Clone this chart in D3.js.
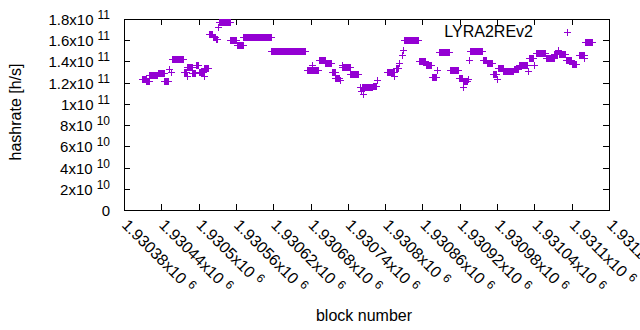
<!DOCTYPE html>
<html lang="en">
<head>
<meta charset="utf-8">
<title>LYRA2REv2 hashrate by block number</title>
<script src="https://d3js.org/d3.v7.min.js"></script>
<style>
    body { margin: 0; background: #fff; }
    text { font-family: "Liberation Sans", Arial, sans-serif; fill: #000; }
</style>
</head>
<body>
<div id="chart"></div>
<script>

// Runs of consecutive blocks that share one hashrate estimate (start block, end block, h/s)
var runStart = [1930409, 1930416, 1930421, 1930434, 1930445, 1930452, 1930456, 1930457, 1930476, 1930481,
                1930482, 1930490, 1930495, 1930500, 1930508, 1930509, 1930516, 1930523, 1930528, 1930531,
                1930532, 1930551, 1930561, 1930572, 1930617, 1930674, 1930682, 1930683, 1930693, 1930704,
                1930714, 1930720, 1930727, 1930730, 1930731, 1930744, 1930759, 1930761, 1930762, 1930764,
                1930765, 1930780, 1930787, 1930803, 1930815, 1930817, 1930822, 1930827, 1930829, 1930831,
                1930854, 1930865, 1930875, 1930883, 1930887, 1930904, 1930918, 1930925, 1930926, 1930933,
                1930935, 1930936, 1930957, 1930963, 1930973, 1930980, 1930981, 1930990, 1931007, 1931015,
                1931030, 1931031, 1931039, 1931043, 1931058, 1931072, 1931078, 1931079, 1931091, 1931100,
                1931111, 1931120, 1931121];
var runEnd   = [1930415, 1930420, 1930433, 1930444, 1930451, 1930452, 1930456, 1930475, 1930479, 1930481,
                1930489, 1930494, 1930499, 1930507, 1930508, 1930515, 1930522, 1930527, 1930530, 1930531,
                1930550, 1930560, 1930571, 1930616, 1930671, 1930681, 1930682, 1930692, 1930703, 1930713,
                1930719, 1930726, 1930727, 1930730, 1930743, 1930756, 1930760, 1930761, 1930763, 1930764,
                1930779, 1930785, 1930787, 1930814, 1930815, 1930821, 1930822, 1930827, 1930829, 1930853,
                1930864, 1930874, 1930882, 1930883, 1930903, 1930917, 1930924, 1930925, 1930932, 1930934,
                1930935, 1930956, 1930962, 1930972, 1930979, 1930980, 1930989, 1931006, 1931014, 1931028,
                1931030, 1931038, 1931039, 1931057, 1931071, 1931077, 1931078, 1931090, 1931099, 1931107,
                1931119, 1931120, 1931133];
var runHashrate = [1.236e11, 1.213e11, 1.269e11, 1.292e11, 1.213e11, 1.330e11, 1.302e11, 1.419e11, 1.297e11, 1.264e11,
                   1.344e11, 1.288e11, 1.363e11, 1.297e11, 1.259e11, 1.339e11, 1.654e11, 1.631e11, 1.612e11, 1.725e11,
                   1.772e11, 1.598e11, 1.551e11, 1.631e11, 1.499e11, 1.321e11, 1.368e11, 1.316e11, 1.410e11, 1.382e11,
                   1.297e11, 1.245e11, 1.222e11, 1.368e11, 1.344e11, 1.278e11, 1.156e11, 1.123e11, 1.156e11, 1.090e11,
                   1.156e11, 1.170e11, 1.227e11, 1.297e11, 1.264e11, 1.339e11, 1.386e11, 1.462e11, 1.509e11, 1.603e11,
                   1.405e11, 1.363e11, 1.250e11, 1.321e11, 1.485e11, 1.316e11, 1.245e11, 1.156e11, 1.217e11, 1.236e11,
                   1.415e11, 1.499e11, 1.410e11, 1.386e11, 1.283e11, 1.236e11, 1.339e11, 1.311e11, 1.330e11, 1.368e11,
                   1.311e11, 1.429e11, 1.368e11, 1.476e11, 1.429e11, 1.471e11, 1.509e11, 1.471e11, 1.410e11, 1.377e11,
                   1.462e11, 1.429e11, 1.579e11];

// Axis ticks
var yTickValues = [0, 2e10, 4e10, 6e10, 8e10, 1e11, 1.2e11, 1.4e11, 1.6e11, 1.8e11];
var yTickText = ["0", "2x10", "4x10", "6x10", "8x10", "1x10", "1.2x10", "1.4x10", "1.6x10", "1.8x10"];
var yTickExp = ["", "10", "10", "10", "10", "11", "11", "11", "11", "11"];

var xTickValues = [1930380, 1930440, 1930500, 1930560, 1930620, 1930680, 1930740,
                   1930800, 1930860, 1930920, 1930980, 1931040, 1931100, 1931160];
var xTickText = ["1.93038x10", "1.93044x10", "1.9305x10", "1.93056x10", "1.93062x10", "1.93068x10", "1.93074x10",
                 "1.9308x10", "1.93086x10", "1.93092x10", "1.93098x10", "1.93104x10", "1.9311x10", "1.93116x10"];
var xTickExp = "6";

var seriesName = "LYRA2REv2";

// Set up the SVG
var width = 640;
var height = 330;
var plot = { left: 124, right: 609, top: 19, bottom: 210 };
var color = "#9400d3";

var svg = d3.select("#chart").append("svg")
    .attr("width", width)
    .attr("height", height);

var x = d3.scaleLinear().domain([1930380, 1931160]).range([plot.left, plot.right]);
var y = d3.scaleLinear().domain([0, 1.8e11]).range([plot.bottom, plot.top]);

// Ticks on all four sides, pointing inward
svg.append("g")
    .attr("transform", "translate(" + plot.left + ",0)")
    .call(d3.axisLeft(y).tickValues(yTickValues).tickSize(-6).tickFormat(""));
svg.append("g")
    .attr("transform", "translate(" + plot.right + ",0)")
    .call(d3.axisRight(y).tickValues(yTickValues).tickSize(-6).tickFormat(""));
svg.append("g")
    .attr("transform", "translate(0," + plot.bottom + ")")
    .call(d3.axisBottom(x).tickValues(xTickValues).tickSize(-6).tickFormat(""));
svg.append("g")
    .attr("transform", "translate(0," + plot.top + ")")
    .call(d3.axisTop(x).tickValues(xTickValues).tickSize(-6).tickFormat(""));
svg.selectAll(".domain").remove();
svg.selectAll(".tick line").attr("stroke", "#000").attr("shape-rendering", "crispEdges");

// Border
svg.append("rect")
    .attr("x", plot.left + 0.5)
    .attr("y", plot.top + 0.5)
    .attr("width", plot.right - plot.left)
    .attr("height", plot.bottom - plot.top)
    .attr("fill", "none")
    .attr("stroke", "#000")
    .attr("shape-rendering", "crispEdges");

// Y tick labels with superscript exponent
var yLabels = svg.selectAll(".ylabel")
    .data(yTickValues)
    .enter().append("text")
    .attr("class", "ylabel")
    .attr("x", 110)
    .attr("y", function(d) { return y(d) + 6; })
    .attr("text-anchor", "end")
    .style("font-size", "15px");
yLabels.append("tspan").text(function(d, i) { return yTickText[i]; });
yLabels.append("tspan")
    .attr("dx", 4)
    .attr("dy", -6)
    .style("font-size", "12px")
    .text(function(d, i) { return yTickExp[i]; });

// X tick labels, rotated (the last one runs off the right edge, as in the original)
var xLabels = svg.selectAll(".xlabel")
    .data(xTickValues)
    .enter().append("text")
    .attr("class", "xlabel")
    .attr("transform", function(d) { return "translate(" + (x(d) - 3) + ",226) rotate(45)"; })
    .attr("text-anchor", "start")
    .style("font-size", "16px");
xLabels.append("tspan").text(function(d, i) { return xTickText[i]; });
xLabels.append("tspan")
    .attr("dx", 5)
    .attr("dy", -5)
    .style("font-size", "12px")
    .text(xTickExp);

// Axis titles
svg.append("text")
    .attr("transform", "translate(21,112) rotate(-90)")
    .attr("text-anchor", "middle")
    .style("font-size", "16px")
    .text("hashrate [h/s]");
svg.append("text")
    .attr("x", 364)
    .attr("y", 321)
    .attr("text-anchor", "middle")
    .style("font-size", "16px")
    .text("block number");

// Draw a "+" point for each block of a run: the vertical strokes merge into a band,
// the horizontal stroke sticks out on both ends
function drawRun(g, x1, x2, yc) {
    x1 = Math.round(x1);
    x2 = Math.round(x2);
    yc = Math.round(yc);
    g.append("rect")
        .attr("x", x1)
        .attr("y", yc - 3)
        .attr("width", x2 - x1 + 1)
        .attr("height", 7)
        .attr("fill", color);
    g.append("rect")
        .attr("x", x1 - 3)
        .attr("y", yc)
        .attr("width", x2 - x1 + 7)
        .attr("height", 1)
        .attr("fill", color);
}

var points = svg.append("g").attr("shape-rendering", "crispEdges");
runStart.forEach(function(s, i) {
    drawRun(points, x(s), x(runEnd[i]), y(runHashrate[i]));
});

// Legend
svg.append("text")
    .attr("x", 533)
    .attr("y", 37)
    .attr("text-anchor", "end")
    .style("font-size", "16px")
    .text(seriesName);
var legendG = svg.append("g").attr("shape-rendering", "crispEdges");
drawRun(legendG, 567, 567, 32);

</script>
</body>
</html>
